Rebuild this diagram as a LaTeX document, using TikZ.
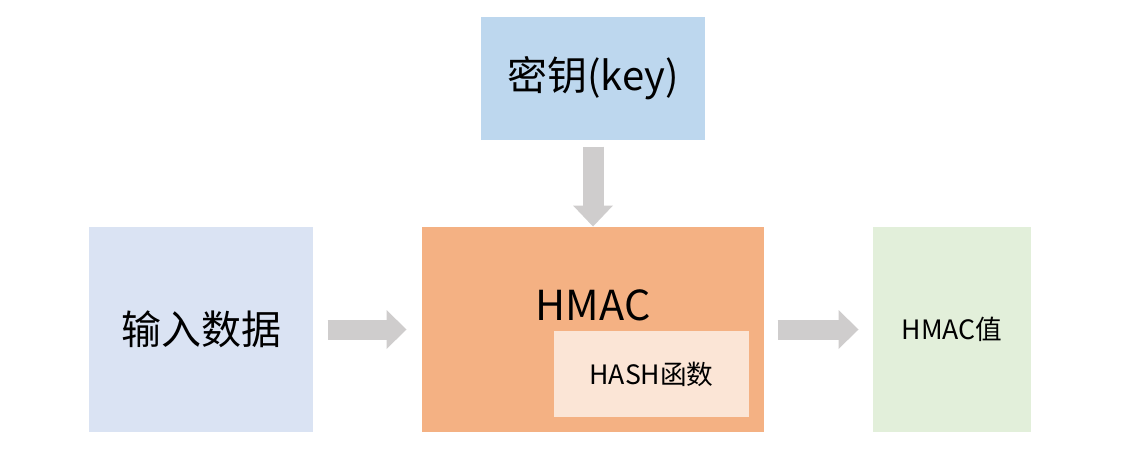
\documentclass[tikz,border=0pt]{standalone}
\usepackage{fontspec}
\setmainfont{Noto Sans CJK SC}
\usetikzlibrary{arrows.meta}

\definecolor{keyblue}{HTML}{BDD7EE}
\definecolor{inblue}{HTML}{DAE3F3}
\definecolor{hmacorange}{HTML}{F4B183}
\definecolor{hashpeach}{HTML}{FBE5D6}
\definecolor{outgreen}{HTML}{E2EFDA}
\definecolor{arrowgray}{HTML}{CFCDCD}

\tikzset{every picture/.style={line width=0.75pt}}
\tikzset{
  box/.style={inner sep=0pt, minimum width=#1, text=black},
  fatarrow/.style={draw=arrowgray, line width=15pt, -{Triangle[width=29.25pt,length=15pt,line width=0pt]}},
  fatarrowv/.style={draw=arrowgray, line width=15.75pt, -{Triangle[width=30pt,length=15.75pt,line width=0pt]}}
}

\begin{document}
\begin{tikzpicture}[x=0.75pt,y=0.75pt,yscale=-1]

\fill [white] (0,0) rectangle (1145,461) ;
\useasboundingbox (0,0) rectangle (1145,461) ;

\draw (593,78.5) node (key) [box=168pt, minimum height=92.25pt, fill=keyblue]  {\fontsize{30}{36}\selectfont 密钥(key)};
\draw (201,329.5) node (in) [box=168pt, minimum height=153.75pt, fill=inblue]  {\fontsize{30}{36}\selectfont 输入数据};
\draw (593,329.5) node (hmac) [box=256.5pt, minimum height=153.75pt, fill=hmacorange]  {};
\draw (651.5,374) node (hash) [box=146.25pt, minimum height=64.5pt, fill=hashpeach]  {\fontsize{20}{24}\selectfont HASH函数};
\draw (952,329.5) node (out) [box=118.5pt, minimum height=153.75pt, fill=outgreen]  {\fontsize{20}{24}\selectfont HMAC值};
\draw (593,305) node (hmaclabel)    {\fontsize{31}{37}\selectfont HMAC};

\draw  [fatarrowv, shorten <=4.5pt]  (key) -- (hmac) ;
\draw  [fatarrow, shorten <=10.5pt, shorten >=11.25pt]  (in) -- (hmac) ;
\draw  [fatarrow, shorten <=9.75pt, shorten >=10.5pt]  (hmac) -- (out) ;

\end{tikzpicture}
\end{document}
